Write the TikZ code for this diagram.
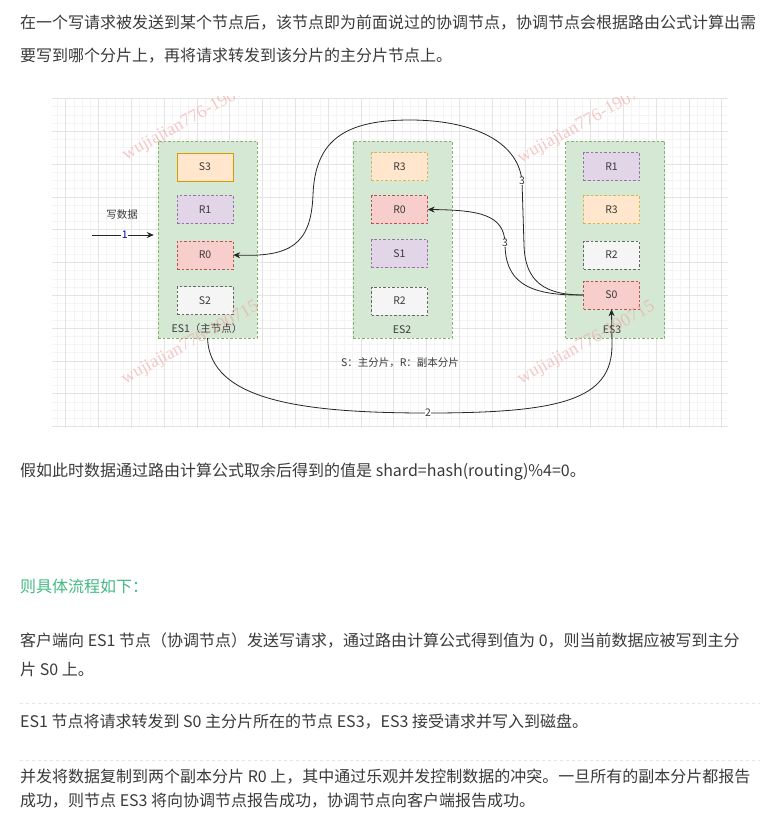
\documentclass[tikz,border=0pt]{standalone}
\usepackage{fontspec}
\setmainfont{Noto Sans CJK SC}
\newfontfamily\markfont{Liberation Serif}
\usetikzlibrary{arrows.meta,positioning}

\definecolor{bodytext}{HTML}{3A3A3A}
\definecolor{headgreen}{HTML}{42B983}
\definecolor{gridminor}{HTML}{F4F4F4}
\definecolor{gridmajor}{HTML}{E4E4E4}
\definecolor{esfill}{HTML}{D5E8D4}
\definecolor{esline}{HTML}{82B366}
\definecolor{orangefill}{HTML}{FFE6CC}
\definecolor{orangeline}{HTML}{D79B00}
\definecolor{yellowline}{HTML}{D6B656}
\definecolor{purplefill}{HTML}{E1D5E7}
\definecolor{purpleline}{HTML}{9673A6}
\definecolor{redfill}{HTML}{F8CECC}
\definecolor{redline}{HTML}{B85450}
\definecolor{greyfill}{HTML}{F5F5F5}
\definecolor{greyline}{HTML}{666666}
\definecolor{marktext}{HTML}{F2A5A5}

\begin{document}
\begin{tikzpicture}[x=1pt,y=-1pt,>={Stealth[length=7pt,width=6pt]},
    line/.style={text=bodytext,anchor=base west,inner sep=0pt,font=\fontsize{16}{16}\selectfont},
    esnode/.style={draw=esline,fill=esfill,dash pattern=on 2.5pt off 2pt,minimum width=99pt,minimum height=197pt,inner sep=0pt},
    shard/.style={dash pattern=on 2.5pt off 2pt,minimum width=56pt,minimum height=28pt,inner sep=0pt,text=bodytext,font=\fontsize{10.5}{10.5}\selectfont},
    orange/.style={shard,draw=orangeline,fill=orangefill},
    yellow/.style={shard,draw=yellowline,fill=orangefill},
    purple/.style={shard,draw=purpleline,fill=purplefill},
    red/.style={shard,draw=redline,fill=redfill},
    grey/.style={shard,draw=greyline,fill=greyfill},
    small/.style={text=bodytext,inner sep=1pt,font=\fontsize{10.5}{10.5}\selectfont},
    numlabel/.style={small,fill=white,inner sep=0.5pt},
    flow/.style={->,thick,black!85},
    watermark/.style={text=marktext,opacity=0.6,anchor=base west,rotate=29,font=\markfont\fontsize{18}{18}\selectfont}]

  \useasboundingbox (0,0) rectangle (779,828);

  % text above the figure
  \node[line] (p1a) at (20,28) {在一个写请求被发送到某个节点后，该节点即为前面说过的协调节点，协调节点会根据路由公式计算出需};
  \node[line] (p1b) at (20,61) {要写到哪个分片上，再将请求转发到该分片的主分片节点上。};

  % grid of the drawing
  \fill[white] (52,98) rectangle (728,428);
  \begin{scope}
    \clip (52,98) rectangle (728,428);
    \draw[gridminor,step=8.2pt] (52,98) grid (728,428);
    \draw[gridmajor,step=32.8pt] (52,98) grid (728,428);
  \end{scope}

  % the three nodes
  \node[esnode] (es1) at (207.5,239.5) {};
  \node[esnode] (es2) at (402.5,239.5) {};
  \node[esnode] (es3) at (615,239.5) {};
  \node[small] (es1name) at (207,329) {ES1（主节点）};
  \node[small] (es2name) at (402,330) {ES2};
  \node[small] (es3name) at (612,330) {ES3};

  % shards
  \node[orange,solid] (es1s3) at (205,167) {S3};
  \node[purple] (es1r1) at (205,209.5) {R1};
  \node[red] (es1r0) at (205,255) {R0};
  \node[grey] (es1s2) at (205,300.5) {S2};

  \node[yellow] (es2r3) at (399.5,166.5) {R3};
  \node[red] (es2r0) at (399.5,209.5) {R0};
  \node[purple] (es2s1) at (399.5,253.5) {S1};
  \node[grey] (es2r2) at (399.5,301) {R2};

  \node[purple] (es3r1) at (611.5,166.5) {R1};
  \node[yellow] (es3r3) at (611.5,209.5) {R3};
  \node[grey] (es3r2) at (611.5,255) {R2};
  \node[red] (es3s0) at (611.5,295) {S0};

  \node[small] (legend) at (400,363) {S：主分片，R：副本分片};

  % request from the client
  \coordinate (client) at (92,235);
  \node[small] (writelabel) at (122,215) {写数据};
  \draw[flow,shorten >=4pt] (client) -- node[numlabel,text=blue!70!black] {1} (es1.west |- client);

  % forward to S0
  \draw[flow] (es1.south) .. controls (210,400) and (300,413) .. (428,413) node[numlabel] {2}
    .. controls (560,413) and (612,400) .. (612,345) -- (es3s0.south);

  % replicate to the R0 copies
  \draw[flow] (es3s0.west) .. controls (545,295) and (525,282) .. (524,245)
    -- (522,181) node[numlabel] {3}
    .. controls (518,140) and (470,120) .. (410,120)
    .. controls (345,120) and (315,140) .. (313,195)
    .. controls (311,245) and (290,257) .. (es1r0.east);
  \draw[flow] (es3s0.west) .. controls (525,296) and (505,280) .. (505,243) node[numlabel] {3}
    .. controls (504,215) and (480,210) .. (es2r0.east);

  % watermarks
  \begin{scope}
    \clip (52,96) rectangle (728,428);
    \node[watermark] (mark1) at (123,162) {wujiajian776-190715};
    \node[watermark] (mark2) at (518,165) {wujiajian776-190715};
    \node[watermark] (mark3) at (122,386) {wujiajian776-190715};
    \node[watermark] (mark4) at (518,386) {wujiajian776-190715};
  \end{scope}

  % text below the figure
  \node[line] (p2) at (20,476) {假如此时数据通过路由计算公式取余后得到的值是 shard=hash(routing)\%4=0。};
  \node[line,text=headgreen] (head) at (20,592) {则具体流程如下：};
  \node[line] (s1a) at (20,646) {客户端向 ES1 节点（协调节点）发送写请求，通过路由计算公式得到值为 0，则当前数据应被写到主分};
  \node[line] (s1b) at (20,675) {片 S0 上。};
  \draw[gridmajor,dashed] (20,703) -- (760,703);
  \node[line] (s2) at (20,727) {ES1 节点将请求转发到 S0 主分片所在的节点 ES3，ES3 接受请求并写入到磁盘。};
  \draw[gridmajor,dashed] (20,760) -- (760,760);
  \node[line] (s3a) at (20,782) {并发将数据复制到两个副本分片 R0 上，其中通过乐观并发控制数据的冲突。一旦所有的副本分片都报告};
  \node[line] (s3b) at (20,806) {成功，则节点 ES3 将向协调节点报告成功，协调节点向客户端报告成功。};
\end{tikzpicture}
\end{document}
